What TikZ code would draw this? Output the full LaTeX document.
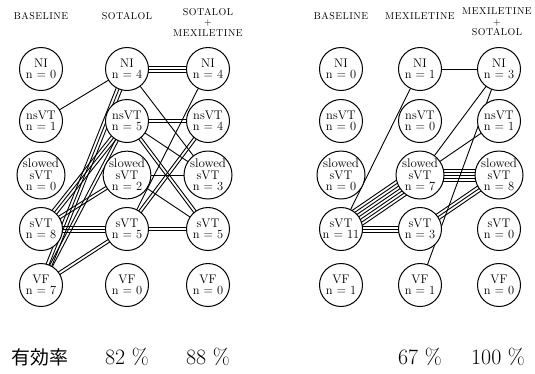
\documentclass[tikz,border=0pt]{standalone}
\usepackage{fontspec}
\newfontfamily\jpfont{Noto Sans CJK JP}
\newfontfamily\headfont[LetterSpace=5]{Latin Modern Roman}
\usetikzlibrary{calc}
\pgfdeclarelayer{bg}
\pgfsetlayers{bg,main}

% n parallel links between two states, spaced #4 bp apart
\newcommand\bundle[4]{%
  \foreach \k in {1,...,#3}{%
    \pgfmathsetmacro\off{(\k-(#3+1)/2)*#4}%
    \draw[link] ($(#1)!\off bp!90:(#2)$) -- ($(#2)!\off bp!-90:(#1)$);
  }}
\newcommand\slw{\scalebox{1.04}[1]{slowed}}

\begin{document}
\begin{tikzpicture}[x=1bp,y=-1bp,
  state/.style={circle,draw,line width=1bp,fill=white,minimum size=43bp,
    inner sep=0pt,align=center,font=\fontsize{12.5}{11.5}\selectfont},
  head/.style={align=center,font=\headfont\fontsize{10}{10.5}\selectfont},
  rate/.style={font=\fontsize{22}{24}\selectfont},
  link/.style={line width=0.9bp}]
\useasboundingbox (0,0) rectangle (535,373);

% column headers
\node[head] (hA) at (41,16) {BASELINE};
\node[head] (hB) at (127,16) {SOTALOL};
\node[head] (hC) at (208,22) {SOTALOL\\+\\MEXILETINE};
\node[head] (hD) at (341,16) {BASELINE};
\node[head] (hE) at (420,16) {MEXILETINE};
\node[head] (hF) at (497,22) {MEXILETINE\\+\\SOTALOL};

% states: NI, nsVT, slowed sVT, sVT, VF
\def\rA{69}\def\rB{121}\def\rC{175}\def\rD{229}\def\rE{285}
\foreach \c/\x/\p/\q/\r/\s/\t in {a/41/0/1/0/8/7, b/127/4/5/2/5/0, c/208/4/4/3/5/0,
                                  d/341/0/0/0/11/1, e/420/1/0/7/3/1, f/499/3/1/8/0/0}{
  \node[state] (\c1) at (\x,\rA) {NI\\n = \p};
  \node[state] (\c2) at (\x,\rB) {nsVT\\n = \q};
  \node[state] (\c3) at (\x,\rC) {\slw\\sVT\\n = \r};
  \node[state] (\c4) at (\x,\rD) {sVT\\n = \s};
  \node[state] (\c5) at (\x,\rE) {VF\\n = \t};
}

% efficacy rates
\node[font=\jpfont\fontsize{19}{20}\selectfont] (lab) at (40,357) {有効率};
\node[rate] (pB) at (127,357) {82 \%};
\node[rate] (pC) at (208,357) {88 \%};
\node[rate] (pE) at (420,357) {67 \%};
\node[rate] (pF) at (498,357) {100 \%};

\begin{pgfonlayer}{bg}
  % baseline -> sotalol
  \bundle{a2}{b1}{1}{3}
  \bundle{a5}{b1}{3}{3}
  \bundle{a4}{b2}{3}{3}
  \bundle{a5}{b2}{2}{3}
  \bundle{a4}{b3}{2}{3}
  \bundle{a4}{b4}{3}{3}
  \bundle{a5}{b4}{2}{3}
  % sotalol -> sotalol + mexiletine
  \bundle{b1}{c1}{3}{3}
  \bundle{b1}{c3}{1}{3}
  \bundle{b2}{c2}{2}{3}
  \bundle{b2}{c3}{1}{3}
  \bundle{b2}{c4}{2}{3}
  \bundle{b3}{c3}{1}{3}
  \bundle{b3}{c4}{1}{3}
  \bundle{b4}{c1}{1}{3}
  \bundle{b4}{c2}{2}{3}
  \bundle{b4}{c4}{2}{3}
  % baseline -> mexiletine
  \bundle{d4}{e1}{1}{3}
  \bundle{d4}{e3}{7}{3}
  \bundle{d4}{e4}{3}{3}
  % mexiletine -> mexiletine + sotalol
  \bundle{e1}{f1}{1}{3}
  \bundle{e3}{f1}{1}{3}
  \bundle{e3}{f2}{1}{3}
  \bundle{e3}{f3}{5}{3}
  \bundle{e4}{f3}{3}{3}
  \bundle{e5}{f1}{1}{3}
\end{pgfonlayer}
\end{tikzpicture}
\end{document}
